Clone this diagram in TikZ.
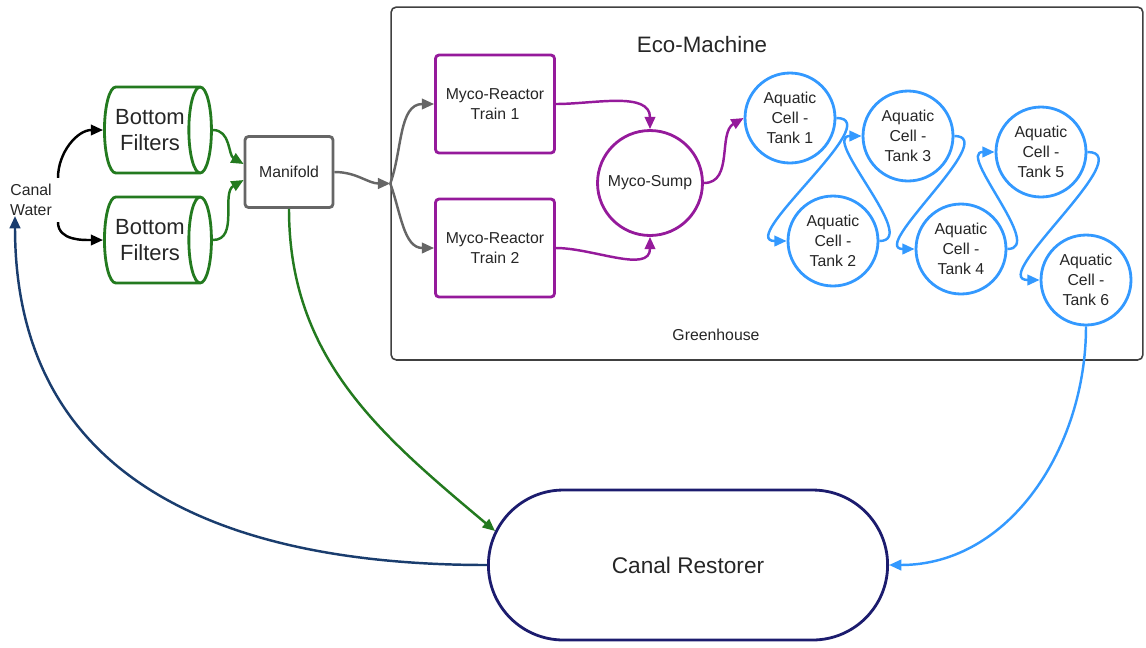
\documentclass[tikz,border=0pt]{standalone}
\usepackage{fontspec}
\setmainfont{Liberation Sans}
\usetikzlibrary{arrows.meta,shapes.geometric,shapes.misc}
\definecolor{cGreen}{HTML}{237A1F}
\definecolor{cPurple}{HTML}{951A9B}
\definecolor{cBlue}{HTML}{3399FF}
\definecolor{cNavy}{HTML}{1C1C6E}
\definecolor{cNavyLine}{HTML}{1A3D6E}
\definecolor{cGray}{HTML}{666666}

\begin{document}
\begin{tikzpicture}[
  x=0.02cm, y=-0.02cm,
  every node/.style={font=\fontsize{9}{11.5}\selectfont, align=center, text=black!85},
  filt/.style={cylinder, shape aspect=0.5, draw=cGreen, line width=1.6pt, minimum width=1.72cm, minimum height=2.14cm, inner sep=1pt, font=\fontsize{12.5}{15}\selectfont},
  sqbox/.style={rectangle, rounded corners=2pt, line width=1.6pt, minimum width=2.38cm, minimum height=1.96cm},
  tank/.style={circle, draw=cBlue, line width=1.6pt, minimum size=1.8cm, inner sep=0pt},
  flow/.style={line width=1.4pt, -{Triangle[length=7pt,width=6pt]}},
]

\useasboundingbox (0,0) rectangle (1146,647);

\node[draw=black!75, rounded corners=3pt, line width=0.9pt, minimum width=15.04cm, minimum height=7.06cm] (gh) at (767,183.5) {};
\node[font=\fontsize{12.7}{15}\selectfont] (eco) at (702,45) {Eco-Machine};
\node (ghlabel) at (716,335) {Greenhouse};

\node (water) at (31,200) {Canal\\Water};
\coordinate (wIn) at (15,216);
\node[filt] (f1) at (150,130) {Bottom\\Filters};
\node[filt] (f2) at (150,240) {Bottom\\Filters};
\node[sqbox, draw=cGray, minimum width=1.76cm, minimum height=1.42cm] (man) at (289,172) {Manifold};

\node[sqbox, draw=cPurple] (mr1) at (495,104) {Myco-Reactor\\Train 1};
\node[sqbox, draw=cPurple] (mr2) at (495,248) {Myco-Reactor\\Train 2};
\node[circle, draw=cPurple, line width=1.6pt, minimum size=2.1cm, inner sep=0pt] (sump) at (650,183) {Myco-Sump};

\node[tank] (t1) at (790,118) {Aquatic\\Cell -\\Tank 1};
\node[tank] (t2) at (833,241) {Aquatic\\Cell -\\Tank 2};
\node[tank] (t3) at (908,136) {Aquatic\\Cell -\\Tank 3};
\node[tank] (t4) at (961,249) {Aquatic\\Cell -\\Tank 4};
\node[tank] (t5) at (1041,152) {Aquatic\\Cell -\\Tank 5};
\node[tank] (t6) at (1086,280) {Aquatic\\Cell -\\Tank 6};

\node[rounded rectangle, draw=cNavy, line width=1.6pt, minimum width=8.22cm, minimum height=3cm, font=\fontsize{12.9}{15}\selectfont] (rest) at (688,565) {Canal Restorer};

\draw[flow, black] (water.north east) to[out=90,in=180] (f1.west);
\draw[flow, black] (water.south east) to[out=-90,in=180] (f2.west);
\draw[flow, cGreen] (f1.east) to[out=0,in=150] (man.170);
\draw[flow, cGreen] (f2.east) to[out=0,in=210] (man.190);
\draw[flow, cGray] (man.east) to[out=0,in=180] (gh.west);
\draw[flow, cGray] (gh.west) to[out=70,in=180] (mr1.west);
\draw[flow, cGray] (gh.west) to[out=-70,in=180] (mr2.west);
\draw[flow, cPurple] (mr1.east) to[out=0,in=90] (sump.north);
\draw[flow, cPurple] (mr2.east) to[out=0,in=-90] (sump.south);
\draw[flow, cPurple] (sump.east) to[out=0,in=210] (t1.west);
\foreach \a/\b in {t1/t2,t2/t3,t3/t4,t4/t5,t5/t6}
  \draw[flow, cBlue] (\a.east) to[out=0,in=180] (\b.west);
\draw[flow, cBlue] (t6.south) to[out=-90,in=0] (rest.east);
\draw[flow, cGreen] (man.south) to[out=-90,in=140] (rest.170);
\draw[flow, cNavyLine] (rest.west) to[out=180,in=-90,looseness=1.15] (wIn);

\end{tikzpicture}
\end{document}
